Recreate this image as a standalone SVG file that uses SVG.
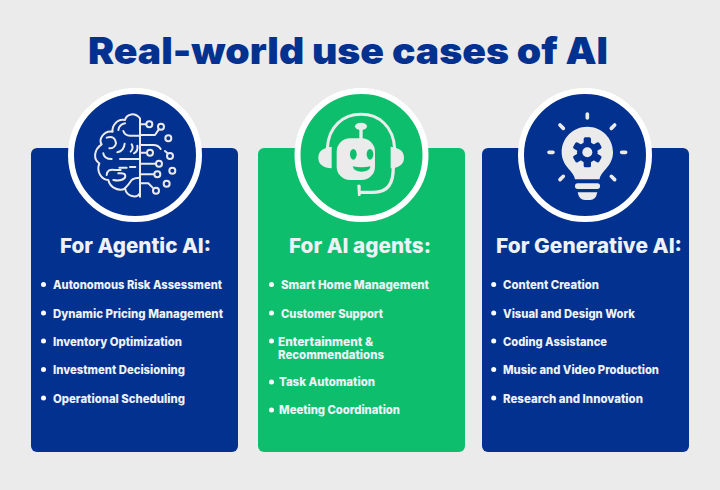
<svg xmlns="http://www.w3.org/2000/svg" width="720" height="490" viewBox="0 0 720 490">
<style>
text{font-family:Inter,"Liberation Sans",sans-serif;fill:#eef1f8}
.title{font-size:37px;font-weight:900;fill:#03318f}
.head{font-size:20.5px;font-weight:800}
.item{font-size:11.6px;font-weight:800}
.blue{fill:#03318f}.green{fill:#0dbf6d}
.ring{stroke:#fff;stroke-width:6}
.dot{fill:#fff}
.ico{fill:none;stroke:#ebebeb;stroke-width:6;stroke-linecap:round;stroke-linejoin:round}
.sol{fill:#ebebeb}
</style>
<rect width="720" height="490" fill="#ebebeb"/>
<text class="title" x="88" y="64" textLength="520" lengthAdjust="spacingAndGlyphs">Real-world use cases of AI</text>

<g id="agentic">
<rect class="blue" x="31" y="148" width="207" height="304" rx="6"/>
<circle class="blue ring" cx="135" cy="155" r="64"/>
<g class="ico" transform="translate(60 85) scale(.3333)">
<path d="M240 335V100C225 82 200 85 195 105C170 100 155 125 158 140C130 135 115 165 125 178C100 195 100 225 118 235C108 260 125 285 145 285C150 310 180 320 195 310C200 335 230 342 240 325"/>
<path d="M240 118H258M240 150H285L296 134M240 180H280Q295 180 302 192M240 203H258M240 236H286M240 268H281M240 295H265L278 308M315 198L322 204"/>
<circle cx="268" cy="118" r="9"/><circle cx="303" cy="125" r="9"/><circle cx="325" cy="160" r="9"/><circle cx="270" cy="203" r="9"/><circle cx="330" cy="213" r="9"/><circle cx="297" cy="236" r="9"/><circle cx="337" cy="257" r="9"/><circle cx="292" cy="268" r="9"/><circle cx="320" cy="296" r="9"/><circle cx="288" cy="317" r="9"/>
<path d="M175 135Q178 118 195 115M190 138Q195 152 210 152H240M140 158Q165 150 168 175Q165 190 148 190M172 202Q192 198 194 176M215 178Q222 190 212 200M232 182Q235 198 222 205M130 205Q132 222 155 222M180 222H240M178 248H200M210 246H226M140 270Q142 250 165 255H182M160 285Q185 290 195 278Q200 262 175 265M195 310Q205 300 215 285Q222 278 240 278"/>
</g>
<text class="head" x="60" y="253" textLength="151" lengthAdjust="spacingAndGlyphs">For Agentic AI:</text>
<circle class="dot" cx="43.500" cy="284.500" r="2.500"/><text class="item" x="53" y="289" textLength="169" lengthAdjust="spacingAndGlyphs">Autonomous Risk Assessment</text>
<circle class="dot" cx="43.500" cy="313" r="2.500"/><text class="item" x="53" y="317.500" textLength="170" lengthAdjust="spacingAndGlyphs">Dynamic Pricing Management</text>
<circle class="dot" cx="43.500" cy="341" r="2.500"/><text class="item" x="53" y="345.500" textLength="129" lengthAdjust="spacingAndGlyphs">Inventory Optimization</text>
<circle class="dot" cx="43.500" cy="369.500" r="2.500"/><text class="item" x="53" y="374" textLength="132" lengthAdjust="spacingAndGlyphs">Investment Decisioning</text>
<circle class="dot" cx="43.500" cy="398" r="2.500"/><text class="item" x="53" y="402.500" textLength="132" lengthAdjust="spacingAndGlyphs">Operational Scheduling</text>
</g>

<g id="agents">
<rect class="green" x="258" y="148" width="207" height="304" rx="6"/>
<circle class="green ring" cx="361.500" cy="155" r="64"/>
<g transform="translate(290 85) scale(.3333)">
<path class="ico" style="stroke-width:9" d="M112 190C115 125 160 88 213 88C268 88 310 125 314 190"/>
<path class="ico" style="stroke-width:10;stroke-linecap:butt" d="M310 245C310 295 295 322 250 322H208"/>
<path class="sol" d="M202 300Q212 296 212 304V330Q212 334 204 332Q203 316 202 300Z"/>
<path class="sol" d="M125 185V250C100 248 85 238 85 218C85 198 100 188 125 185ZM302 185V250C327 248 342 238 342 218C342 198 327 188 302 185Z"/>
<rect class="sol" x="140" y="160" width="115" height="125" rx="40"/>
<rect class="sol" x="208" y="125" width="10" height="40"/>
<ellipse class="sol" cx="213" cy="124" rx="18" ry="11"/>
<ellipse class="green" cx="190" cy="208" rx="10" ry="16"/>
<ellipse class="green" cx="240" cy="208" rx="10" ry="16"/>
<path class="green" d="M188 244Q214 250 242 244Q238 260 215 260Q192 260 188 244Z"/>
</g>
<text class="head" x="289" y="253" textLength="142" lengthAdjust="spacingAndGlyphs">For AI agents:</text>
<circle class="dot" cx="271.500" cy="284.500" r="2.500"/><text class="item" x="281" y="289" textLength="148" lengthAdjust="spacingAndGlyphs">Smart Home Management</text>
<circle class="dot" cx="271.500" cy="313" r="2.500"/><text class="item" x="281" y="317.500" textLength="102" lengthAdjust="spacingAndGlyphs">Customer Support</text>
<circle class="dot" cx="271.500" cy="341" r="2.500"/><text class="item" x="278" y="345.500" textLength="95" lengthAdjust="spacingAndGlyphs">Entertainment &amp;</text>
<text class="item" x="278" y="359" textLength="106" lengthAdjust="spacingAndGlyphs">Recommendations</text>
<circle class="dot" cx="271.500" cy="382" r="2.500"/><text class="item" x="279" y="386" textLength="96" lengthAdjust="spacingAndGlyphs">Task Automation</text>
<circle class="dot" cx="271.500" cy="410" r="2.500"/><text class="item" x="279" y="414" textLength="121" lengthAdjust="spacingAndGlyphs">Meeting Coordination</text>
</g>

<g id="generative">
<rect class="blue" x="482" y="148" width="207" height="304" rx="6"/>
<circle class="blue ring" cx="585" cy="155" r="64"/>
<g transform="translate(510 85) scale(.3333)">
<path class="sol" d="M195 283C192 258 155 245 155 202C155 158 190 125 232 125C274 125 309 158 309 202C309 245 272 258 269 283Z"/>
<g class="blue"><circle cx="232" cy="202" r="31"/>
<g id="gear"><rect x="221" y="157" width="22" height="90" rx="5"/><rect x="221" y="157" width="22" height="90" rx="5" transform="rotate(60 232 202)"/><rect x="221" y="157" width="22" height="90" rx="5" transform="rotate(120 232 202)"/></g></g>
<circle class="sol" cx="232" cy="202" r="15"/>
<rect class="sol" x="195" y="295" width="75" height="17" rx="8"/>
<path class="sol" d="M203 322H262Q258 345 240 345H225Q207 345 203 322Z"/>
<path class="ico" style="stroke-width:11" d="M232 87V99M150 120L160 130M314 120L304 130M117 202H129M335 202H347M150 284L160 274M314 284L304 274"/>
</g>
<text class="head" x="496" y="253" textLength="186" lengthAdjust="spacingAndGlyphs">For Generative AI:</text>
<circle class="dot" cx="493.700" cy="284.500" r="2.500"/><text class="item" x="503" y="289" textLength="96" lengthAdjust="spacingAndGlyphs">Content Creation</text>
<circle class="dot" cx="493.700" cy="313" r="2.500"/><text class="item" x="503" y="317.500" textLength="132" lengthAdjust="spacingAndGlyphs">Visual and Design Work</text>
<circle class="dot" cx="493.700" cy="341" r="2.500"/><text class="item" x="503" y="345.500" textLength="104" lengthAdjust="spacingAndGlyphs">Coding Assistance</text>
<circle class="dot" cx="493.700" cy="369.500" r="2.500"/><text class="item" x="503" y="374" textLength="156" lengthAdjust="spacingAndGlyphs">Music and Video Production</text>
<circle class="dot" cx="493.700" cy="398" r="2.500"/><text class="item" x="503" y="402.500" textLength="140" lengthAdjust="spacingAndGlyphs">Research and Innovation</text>
</g>
</svg>
